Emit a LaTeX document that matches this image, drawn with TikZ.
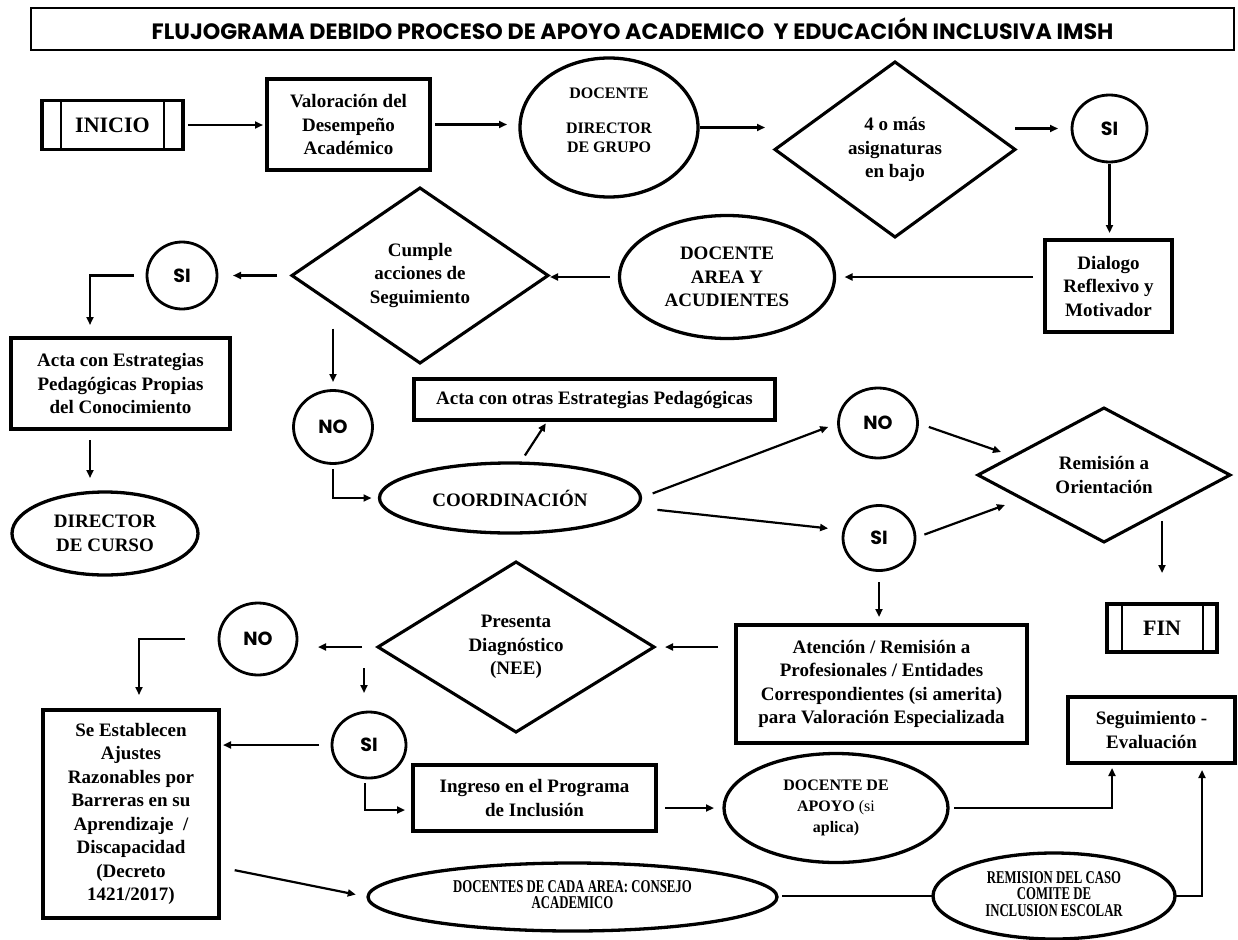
\documentclass[tikz,border=0pt]{standalone}
\usepackage{fontspec}
\setmainfont{Liberation Serif}
\newfontfamily\gothic{Poppins}
\usetikzlibrary{shapes.geometric,arrows.meta}
\begin{document}
\begin{tikzpicture}[x=1pt,y=-1pt,
  every node/.style={font=\bfseries\fontsize{19}{23.5}\selectfont, align=center, inner sep=0pt, outer sep=0pt},
  box/.style={draw, line width=3.3pt, rectangle},
  oval/.style={draw, line width=3.3pt, ellipse},
  ring/.style={draw, line width=2.8pt, ellipse, font=\gothic\bfseries\fontsize{19}{22}\selectfont},
  rhomb/.style={draw, line width=3.1pt, diamond, aspect=1},
  arr/.style={line width=2.2pt, -{Triangle[length=8pt,width=7pt]}},
  ln/.style={line width=2.2pt},
  bar/.style={line width=2.6pt},
  small/.style={font=\bfseries\fontsize{16}{19}\selectfont},
  tiny/.style={font=\bfseries\fontsize{18}{15.5}\selectfont},
]
\useasboundingbox (0,0) rectangle (1238,939);

% title
\node[draw, line width=1.3pt, minimum width=1203pt, minimum height=42pt,
      font=\gothic\bfseries\fontsize{22.2}{26}\selectfont] (title) at (632.5,29)
  {FLUJOGRAMA DEBIDO PROCESO DE APOYO ACADEMICO\ \ Y EDUCACIÓN INCLUSIVA IMSH};

% row 1
\node[box, minimum width=141pt, minimum height=49pt, font=\bfseries\fontsize{22}{26}\selectfont] (ini) at (112.5,125) {INICIO};
\draw[bar] ([xshift=19pt]ini.north west) -- ([xshift=19pt]ini.south west);
\draw[bar] ([xshift=-19pt]ini.north east) -- ([xshift=-19pt]ini.south east);
\node[box, minimum width=163pt, minimum height=91pt] (val) at (348.5,124.5) {Valoración del\\Desempeño\\Académico};
\node[oval, minimum width=178pt, minimum height=139pt] (doc) at (609,127.5) {};
\node[small] (doctxt) at ([yshift=7.5pt]doc.center) {DOCENTE\\[16pt]DIRECTOR\\DE GRUPO};
\node[rhomb, minimum width=240pt, minimum height=175pt] (d4) at (895,149.5) {4 o más\\asignaturas\\en bajo};
\node[ring, minimum width=75pt, minimum height=67pt] (s1) at (1109.5,128.5) {SI};

% row 2
\node[box, minimum width=127pt, minimum height=92pt] (dia) at (1108.5,286) {Dialogo\\Reflexivo y\\Motivador};
\node[oval, minimum width=215pt, minimum height=123pt] (area) at (727,277) {DOCENTE\\AREA Y\\ACUDIENTES};
\node[rhomb, minimum width=256pt, minimum height=175pt] (cum) at (420,275.5) {Cumple\\acciones de\\Seguimiento};
\node[ring, minimum width=70pt, minimum height=67pt] (s2) at (182,275.5) {SI};
\node[box, minimum width=219pt, minimum height=91pt] (acta) at (120.5,383.5) {Acta con Estrategias\\Pedagógicas Propias\\del Conocimiento};
\node[oval, minimum width=186pt, minimum height=83pt] (dir) at (105,533.5) {DIRECTOR\\DE CURSO};

% middle
\node[ring, minimum width=79pt, minimum height=73pt] (no1) at (333,427) {NO};
\node[oval, minimum width=261pt, minimum height=70pt] (coord) at (510,498) {COORDINACIÓN};
\node[box, minimum width=361pt, minimum height=41pt] (acta2) at (594.5,399.5) {Acta con otras Estrategias Pedagógicas};
\node[ring, minimum width=79pt, minimum height=70pt] (no2) at (878,423) {NO};
\node[ring, minimum width=72pt, minimum height=65pt] (si3) at (879,538) {SI};
\node[rhomb, minimum width=252pt, minimum height=130pt] (rem) at (1104,475) {Remisión a\\Orientación};
\node[box, minimum width=110pt, minimum height=48pt, font=\bfseries\fontsize{22}{26}\selectfont] (fin) at (1162,628) {FIN};
\draw[bar] ([xshift=15pt]fin.north west) -- ([xshift=15pt]fin.south west);
\draw[bar] ([xshift=-14pt]fin.north east) -- ([xshift=-14pt]fin.south east);

% lower
\node[box, minimum width=291pt, minimum height=118pt] (aten) at (881.5,684) {Atención / Remisión a\\Profesionales / Entidades\\Correspondientes (si amerita)\\para Valoración Especializada};
\node[rhomb, minimum width=276pt, minimum height=170pt] (pres) at (516,647) {Presenta\\Diagnóstico\\(NEE)};
\node[ring, minimum width=78pt, minimum height=72pt] (no3) at (258,639) {NO};
\node[ring, minimum width=74pt, minimum height=66pt] (si4) at (369,745) {SI};
\node[box, minimum width=176pt, minimum height=208pt] (se) at (131,814) {Se Establecen\\Ajustes\\Razonables por\\Barreras en su\\Aprendizaje\ \ /\\Discapacidad\\(Decreto\\1421/2017)};
\node[box, minimum width=243pt, minimum height=66pt] (ing) at (534.5,798) {Ingreso en el Programa\\de Inclusión};
\node[oval, minimum width=224pt, minimum height=109pt, font=\bfseries\fontsize{16}{21}\selectfont] (apoyo) at (836,808) {DOCENTE DE\\APOYO {\mdseries(si}\\aplica)};
\node[box, minimum width=167pt, minimum height=66pt] (seg) at (1151.5,730) {Seguimiento -\\Evaluación};
\node[oval, minimum width=409pt, minimum height=68pt, tiny] (cada) at (572.5,897)
  {\scalebox{0.71}[1]{\begin{tabular}{@{}c@{}}DOCENTES DE CADA AREA: CONSEJO\\ACADEMICO\end{tabular}}};
\node[oval, minimum width=242pt, minimum height=86pt, tiny] (rem2) at (1054,896)
  {\scalebox{0.71}[1]{\begin{tabular}{@{}c@{}}REMISION DEL CASO\\COMITE DE\\INCLUSION ESCOLAR\end{tabular}}};

% connectors
\draw[arr, shorten <=5pt, shorten >=4pt] (ini.east) -- (ini.east -| val.west);
\draw[arr, shorten <=5pt, shorten >=13pt] (val.east) -- (val.east -| doc.west);
\draw[arr, shorten <=2pt, shorten >=10pt] (doc.east) -- (doc.east -| d4.west);
\draw[arr, shorten >=14pt] (s1.west -| d4.east) -- (s1.west);
\draw[arr, shorten <=2pt, shorten >=7pt] (s1.south) -- (s1.south |- dia.north);
\draw[arr, shorten <=12pt, shorten >=10pt] (dia.west |- area.east) -- (area.east);
\draw[arr, shorten <=10pt, shorten >=2pt] (area.west) -- (area.west -| cum.east);
\draw[arr, shorten <=15pt, shorten >=16pt] (cum.west) -- (s2.east);
\draw[arr, shorten <=13pt, shorten >=13pt] (s2.west) -| ([xshift=-30.5pt]acta.north);
\draw[arr, shorten <=11pt, shorten >=14pt] ([xshift=-30.5pt]acta.south) -- ([xshift=-30.5pt]acta.south |- dir.north);
\draw[arr, shorten <=53pt, shorten >=8.5pt] (cum.west -| no1.north) -- (no1.north);
\draw[arr, shorten <=5.5pt, shorten >=8pt] (no1.south) |- (coord.west);
\draw[arr, shorten <=9pt, shorten >=4pt] ([xshift=10pt]coord.north) -- ([xshift=-46.5pt]acta2.south);
\draw[arr, shorten <=13pt, shorten >=11pt] (coord.east) -- (no2.west);
\draw[arr, shorten <=17pt, shorten >=15pt] ([yshift=-10pt]coord.east) -- ([yshift=8pt]si3.west);
\draw[arr, shorten <=12pt] (no2.east) -- ([xshift=23pt,yshift=23pt]rem.west);
\draw[arr, shorten <=10pt] (si3.east) -- ([xshift=27pt,yshift=-30pt]rem.west);
\draw[arr, shorten <=46pt, shorten >=31pt] (fin.north |- rem.east) -- (fin.north);
\draw[arr, shorten <=11.5pt, shorten >=8pt] (si3.south) -- (si3.south |- aten.north);
\draw[arr, shorten <=18pt, shorten >=11pt] (pres.east -| aten.west) -- (pres.east);
\draw[arr, shorten <=16pt, shorten >=21pt] (pres.west) -- (pres.west -| no3.east);
\draw[arr, shorten <=34pt, shorten >=15pt] (no3.west) -| ([xshift=8pt]se.north);
\draw[arr, shorten <=21pt, shorten >=19pt] ([xshift=-5pt]si4.north |- pres.west) -- ([xshift=-5pt]si4.north);
\draw[arr, shorten <=13pt, shorten >=4pt] (si4.west) -- (si4.west -| se.east);
\draw[arr, shorten <=5pt, shorten >=8pt] ([xshift=-4pt]si4.south) |- ([yshift=-12pt]ing.west);
\draw[arr, shorten <=9pt, shorten >=10pt] (ing.east |- apoyo.west) -- (apoyo.west);
\draw[arr, shorten <=6pt, shorten >=5pt] (apoyo.east) -| ([xshift=-39.5pt]seg.south);
\draw[arr, shorten <=16pt, shorten >=12.5pt] ([yshift=-53pt]se.east) -- (cada.west);
\draw[ln, shorten <=5pt] (cada.east |- rem2.west) -- (rem2.west);
\draw[arr, shorten >=7pt] (rem2.east) -| ([xshift=50.5pt]seg.south);
\end{tikzpicture}
\end{document}
